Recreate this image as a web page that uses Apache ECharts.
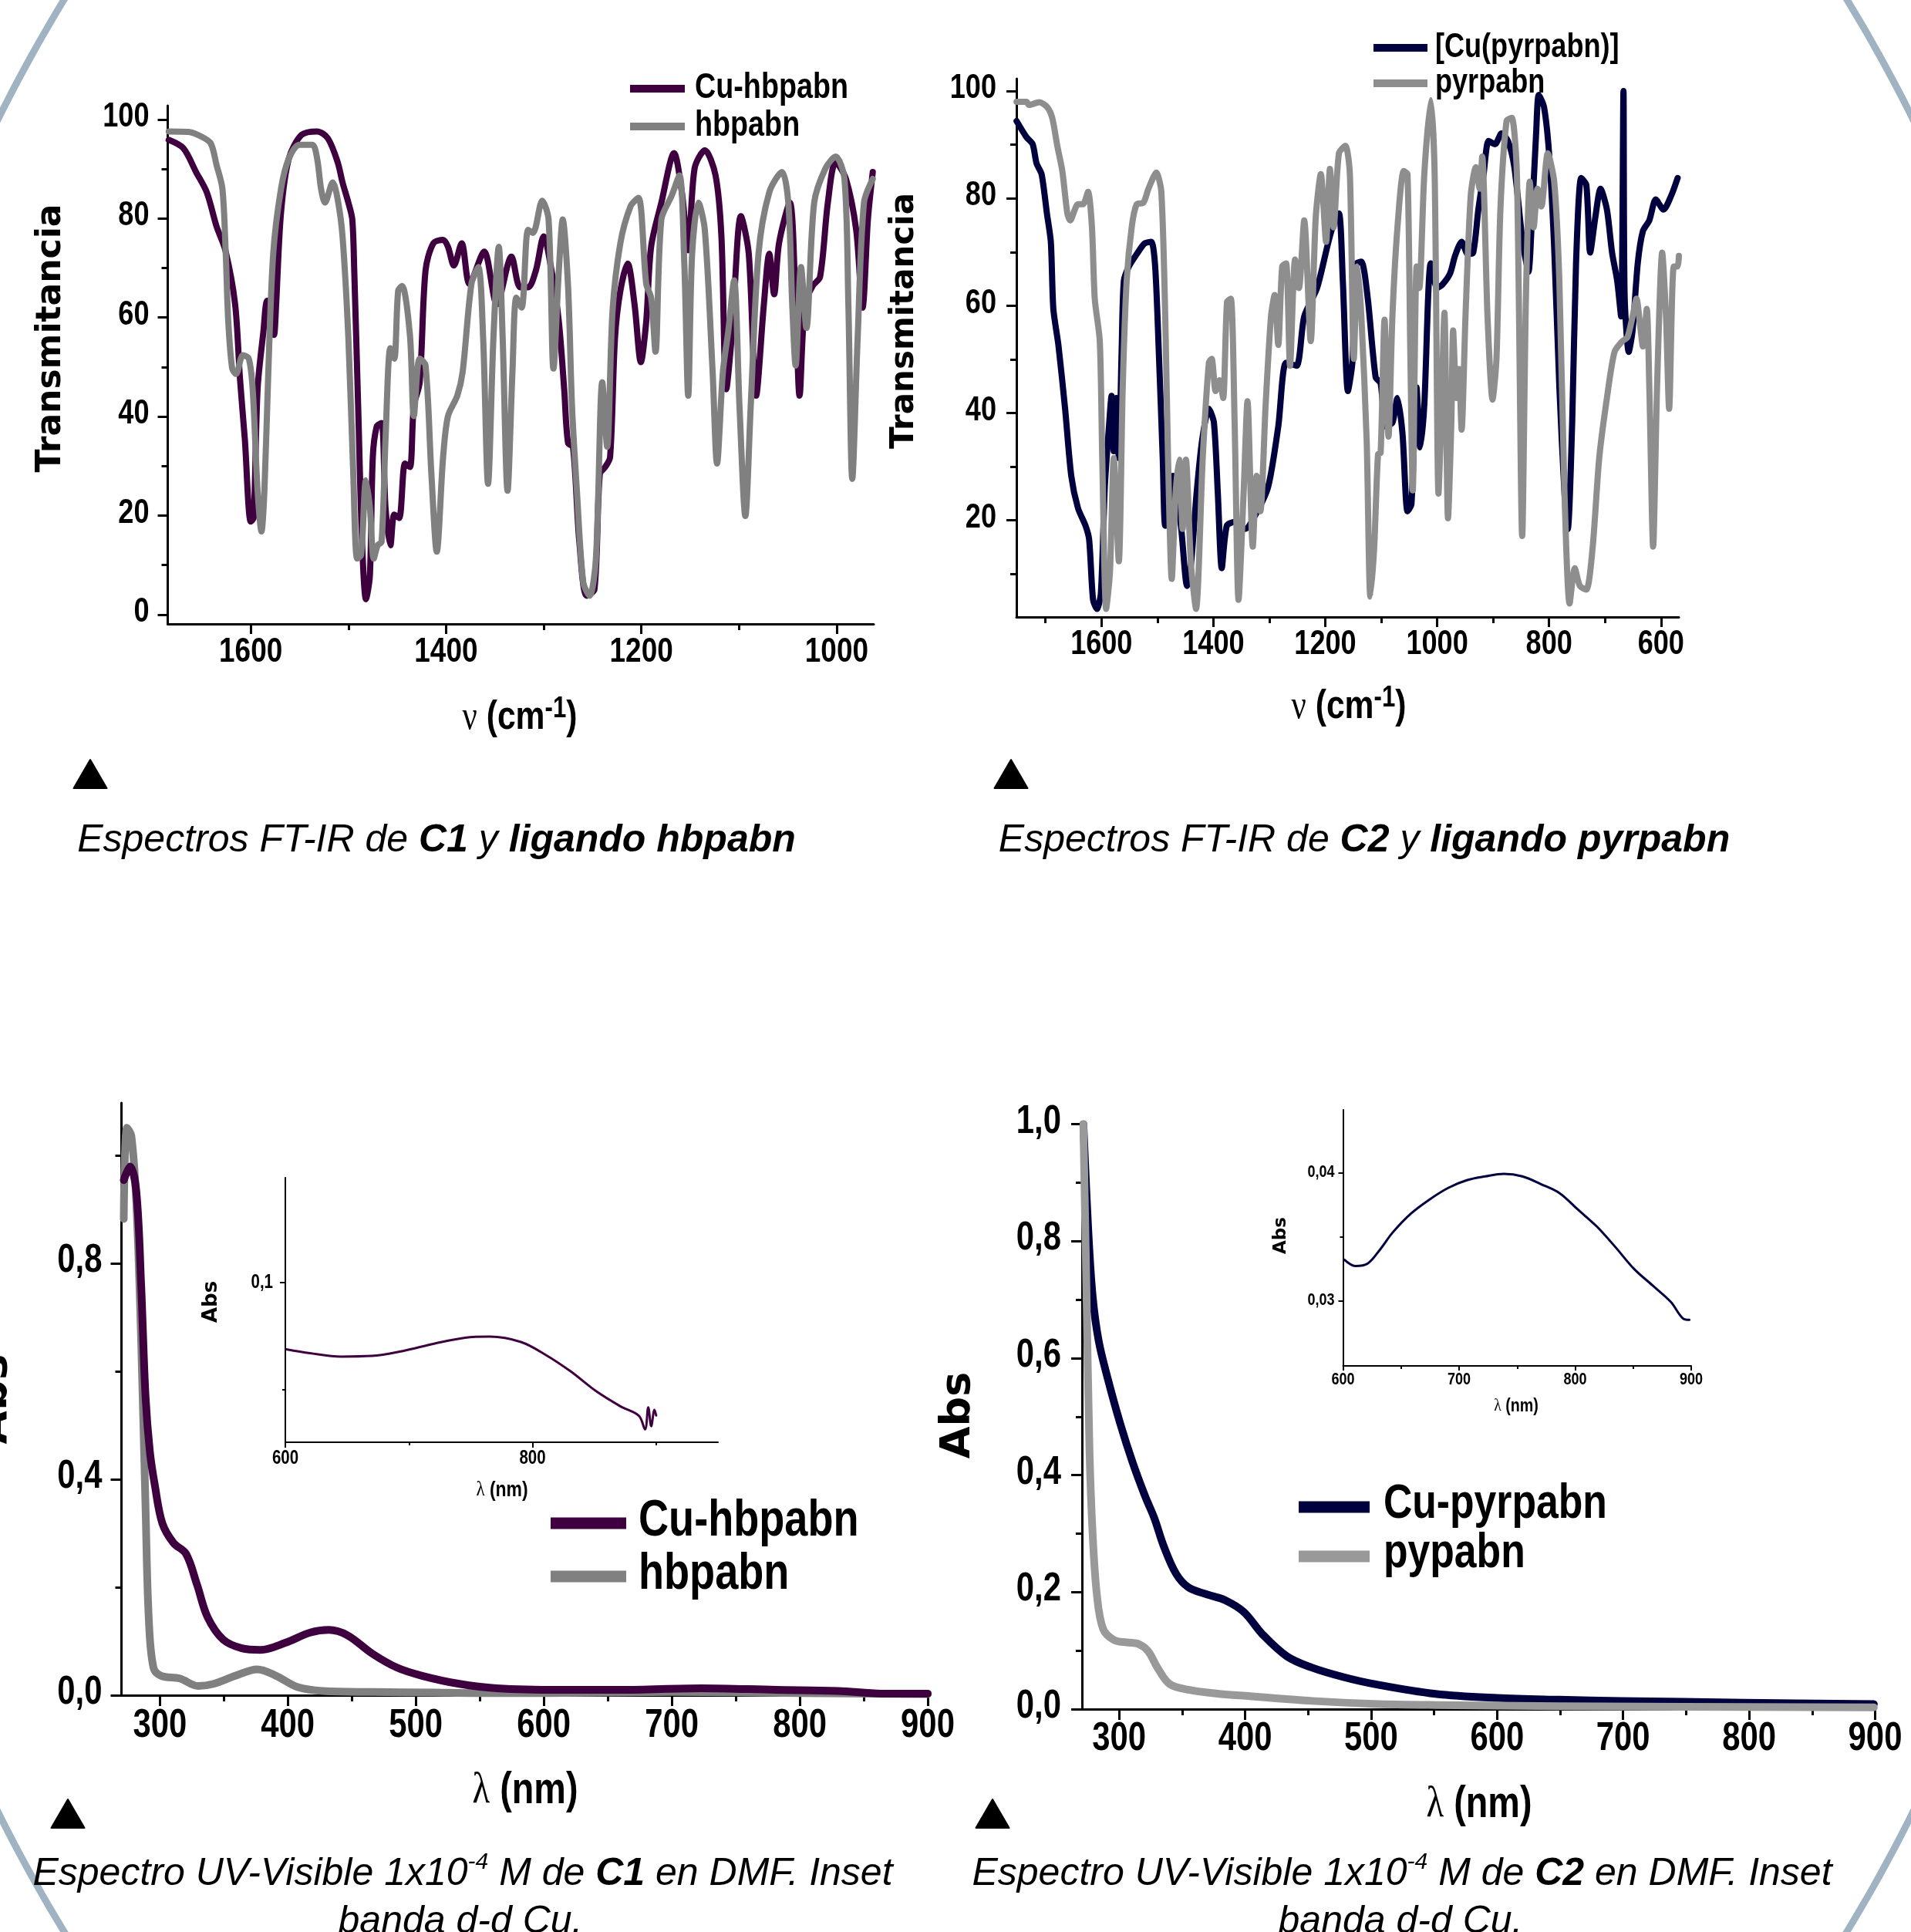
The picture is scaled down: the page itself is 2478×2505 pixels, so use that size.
<!DOCTYPE html>
<html>
<head>
<meta charset="utf-8">
<script src="https://cdn.jsdelivr.net/npm/echarts@6/dist/echarts.min.js"></script>
<style>
html,body{margin:0;padding:0;background:#fff;}
#c{width:2478px;height:2505px;}
</style>
</head>
<body>
<div id="c"></div>
<script>
// ---------------- DATA ----------------
// FT-IR C1 (wavenumber cm-1, %T)
const cuHbpabnIR = [[1684,95.9],[1669,94.2],[1656,89.4],[1645,85.3],[1635,78.4],[1626,73.6],[1616,62.7],[1611,47.6],[1606,35.3],[1600,18.8],[1597,19.5],[1593,45.5],[1587,57.2],[1583,63.4],[1579,63.0],[1576,56.5],[1574,62.7],[1569,81.2],[1561,92.1],[1548,96.9],[1532,97.6],[1521,96.2],[1511,91.4],[1506,87.3],[1500,83.2],[1496,79.8],[1494,69.5],[1490,42.1],[1486,14.7],[1482,3.1],[1478,7.9],[1475,31.8],[1471,38.0],[1466,38.7],[1462,21.6],[1457,14.0],[1453,20.2],[1448,19.5],[1442,30.5],[1437,29.8],[1433,42.1],[1427,46.9],[1421,69.5],[1413,75.0],[1403,75.7],[1398,74.3],[1392,70.5],[1384,75.0],[1376,66.8],[1361,73.3],[1348,62.7],[1333,72.3],[1324,66.1],[1316,66.1],[1308,69.5],[1300,76.4],[1292,69.5],[1284.5,59.2],[1279,45.5],[1275,34.6],[1270,33.9],[1263.5,14.7],[1256,3.8],[1248,5.1],[1242.5,28.4],[1237,29.8],[1232,31.8],[1227,55.8],[1221.5,65.4],[1214,70.9],[1207,62.7],[1200.5,51.0],[1195,59.2],[1190,74.3],[1179.5,83.2],[1166.5,93.2],[1158.5,85.3],[1152,73.6],[1145.5,90.1],[1135,93.8],[1124,88.7],[1118,76.4],[1113,45.5],[1107,57.2],[1098,80.5],[1090,72.9],[1082.5,44.2],[1074.5,62.7],[1069,72.9],[1064,64.7],[1059,75.0],[1048,83.2],[1042,62.7],[1038,44.2],[1032.5,62.7],[1024.5,66.4],[1017,68.2],[1009,83.2],[1001,91.4],[990.5,88.0],[980,77.7],[973.5,62.0],[968,79.8],[963,89.4]];
const hbpabnIR = [[1684,97.6],[1664,97.5],[1651,96.6],[1641,95.2],[1635,90.8],[1629,86.0],[1625.6,72.9],[1623,59.2],[1619,49.7],[1615,48.6],[1608,52.4],[1602,51.7],[1598,45.5],[1593,25.0],[1589,16.8],[1586,25.0],[1582,49.0],[1577,72.9],[1569,86.0],[1561,92.1],[1550,94.9],[1537,94.9],[1532,92.1],[1528,86.0],[1524,83.2],[1516,87.3],[1511,83.9],[1506,76.4],[1500,55.8],[1495,28.4],[1491,11.3],[1487,12.0],[1482,27.1],[1478,21.6],[1474,11.3],[1470,14.0],[1466,14.7],[1462,35.3],[1457,53.8],[1453,51.7],[1449,65.4],[1445,66.4],[1437,56.5],[1433,40.1],[1427,51.7],[1421,50.3],[1415,28.4],[1409.5,12.7],[1403,31.8],[1398,40.1],[1388.5,44.2],[1383,49.0],[1374,66.8],[1367,70.2],[1362,55.8],[1357,26.4],[1351.5,55.8],[1346,74.3],[1342,55.8],[1337,25.0],[1332,49.0],[1328,64.0],[1322.6,62.0],[1316,77.7],[1311,77.1],[1301.5,83.6],[1295,79.8],[1290,49.7],[1284.5,69.5],[1280.5,79.8],[1275,66.1],[1271,42.1],[1266,25.0],[1259.5,6.5],[1253,3.8],[1246.5,11.3],[1240,46.9],[1235,33.9],[1229.5,61.3],[1221.5,75.0],[1211,82.5],[1203,84.2],[1195,66.8],[1190,64.0],[1185.5,53.1],[1179.5,79.8],[1169,84.6],[1161,88.7],[1156,70.9],[1152,44.2],[1148,72.9],[1141.5,83.2],[1135,77.7],[1127,49.0],[1122.5,30.5],[1116.5,49.0],[1111,57.2],[1105,67.5],[1099.5,42.1],[1093.5,19.9],[1088,42.1],[1080,72.9],[1069,85.3],[1056,89.4],[1049.5,83.2],[1045.5,62.7],[1042,50.3],[1036.5,70.2],[1031,57.9],[1023,83.2],[1011.5,90.1],[1001,92.5],[992,88.0],[988,62.7],[984,27.4],[978.5,55.8],[972,83.2],[963,88.0]];

// FT-IR C2
const cuPyrpabnIR = [[1751.7,94.4],[1734,91.4],[1723,90.1],[1716,86.5],[1707,84.5],[1697.5,77.2],[1690.5,71.9],[1686,59.4],[1677,52.7],[1665,40.8],[1654,28.3],[1642,22.3],[1628.5,19.0],[1622,16.4],[1615,5.2],[1608,3.5],[1601,6.5],[1594,26.3],[1587,36.9],[1582,43.2],[1578,32.9],[1573.3,42.8],[1569,31.6],[1564,51.4],[1560,64.6],[1551,67.3],[1537,69.6],[1523,71.6],[1511,71.9],[1504,67.3],[1497.5,51.4],[1490.5,31.6],[1486,19.0],[1478,22.0],[1472,28.3],[1458,19.0],[1447,7.8],[1440,11.8],[1430,25.0],[1420,35.0],[1408,40.8],[1399,38.2],[1392,25.0],[1385,11.1],[1376,19.0],[1362,19.7],[1343.4,18.4],[1325,21.0],[1302,26.3],[1284,37.5],[1270,49.4],[1251.4,48.8],[1237.6,58.0],[1214.7,63.3],[1196,71.2],[1187,74.6],[1175.6,77.2],[1168.6,64.6],[1159.5,44.1],[1151.6,49.4],[1144.7,67.8],[1135.5,68.2],[1124,61.3],[1110,46.7],[1101,45.5],[1092,37.5],[1080,38.2],[1071,42.8],[1062,36.2],[1053,21.7],[1046,23.0],[1037,44.8],[1030,33.6],[1023,41.5],[1011.4,67.9],[1000,63.3],[991,63.9],[977,66.0],[968,69.3],[956.3,71.9],[945,69.6],[935.6,69.9],[926.4,77.9],[917,84.5],[908,90.7],[896.5,90.1],[885,92.1],[873.5,90.7],[862,85.8],[848,72.6],[837,66.3],[830,77.9],[823,92.4],[818.4,99.3],[809,97.0],[800,88.4],[791,71.2],[781.6,44.8],[772.4,25.0],[766.5,18.4],[758.7,38.2],[751.8,67.9],[742.6,83.8],[733.4,82.5],[726.5,69.9],[717.3,76.5],[708,81.8],[696.6,77.9],[687.4,69.9],[678.2,64.6],[671.3,58.0],[667,100],[665,62.0],[657.6,51.4],[650.7,55.4],[641.5,67.9],[632.3,73.9],[620.8,75.9],[609.3,79.8],[595.5,77.9],[581.7,80.5],[570.2,83.8]];
const pyrpabnIR = [[1751.7,98.0],[1734,98.0],[1729.6,97.4],[1711,97.9],[1697,97.0],[1688,95.0],[1679,89.8],[1670,85.1],[1661,77.2],[1656,75.9],[1642,78.9],[1633,78.9],[1624,81.2],[1617,74.6],[1612,61.3],[1603,53.4],[1598.6,31.6],[1591.6,3.5],[1584.8,10.4],[1578,31.6],[1569,12.4],[1562,44.8],[1555,64.6],[1546,74.6],[1537,78.9],[1525,79.2],[1516,81.8],[1502,84.8],[1493,81.2],[1486,58.0],[1481,31.6],[1474.4,9.1],[1467.5,25.0],[1461,31.3],[1455,18.4],[1449,31.3],[1440,11.8],[1431,3.5],[1419,31.6],[1408,49.4],[1403,50.1],[1396,44.1],[1389,46.1],[1382.5,42.8],[1375.6,60.7],[1368.7,61.3],[1362,38.2],[1355,5.2],[1346,25.0],[1339,42.2],[1329.6,15.1],[1322.7,28.3],[1316,21.7],[1306.6,41.5],[1297,58.0],[1290.5,62.0],[1284,52.7],[1277,67.3],[1270,67.9],[1263,48.8],[1254,68.6],[1247,63.3],[1237.6,75.9],[1226,53.4],[1217,76.5],[1208,84.5],[1198.5,71.9],[1191.7,85.5],[1185,74.6],[1175.6,88.4],[1164,89.8],[1156,84.5],[1149,50.1],[1142.4,67.3],[1135.5,58.0],[1126,34.9],[1119.4,5.8],[1112.5,15.1],[1105.7,32.3],[1101,32.6],[1094,57.4],[1087,35.6],[1080,58.0],[1071,74.6],[1059.7,85.1],[1053,84.5],[1048,51.4],[1043.6,25.6],[1036.7,67.3],[1032,63.3],[1023,84.5],[1011.4,98.3],[1004.5,84.5],[997.6,25.0],[993,38.2],[987,58.7],[980.6,20.4],[974.7,38.2],[971.5,55.4],[965.5,42.8],[961,48.2],[956.3,36.9],[949.4,58.0],[940,80.5],[931,85.8],[924,81.8],[919.5,87.8],[910,58.0],[901,42.5],[894,50.1],[887,77.9],[876,94.4],[866.7,95.0],[857.5,84.5],[848,17.1],[841.4,61.3],[834.5,83.1],[827.6,74.6],[820.7,81.8],[813.8,78.5],[802.3,88.4],[790.8,83.1],[781.6,64.6],[772.4,25.0],[763.3,4.5],[754,11.1],[745,7.8],[733.4,7.1],[722,15.1],[710.4,31.6],[696.6,42.8],[683,51.4],[669,53.4],[660,54.1],[650.7,58.0],[643.8,61.3],[636.9,56.0],[632.3,52.4],[625.4,59.4],[620.8,44.8],[614,15.1],[607,44.8],[597.8,69.9],[591,58.0],[585.4,40.8],[577.1,67.3],[570.2,67.3],[568,69.3]];

// UV-Vis C1 (nm, Abs)
const cuHbpabnUV = [[271.8,0.954],[276.7,0.979],[281.6,0.933],[285.4,0.759],[288.8,0.554],[292.2,0.451],[296,0.390],[302,0.318],[310.7,0.282],[320.4,0.262],[329,0.205],[337.4,0.144],[349.5,0.103],[364,0.087],[378.6,0.084],[398,0.097],[417.5,0.116],[432,0.121],[446.6,0.111],[466,0.077],[485.4,0.051],[504.9,0.036],[534,0.021],[563,0.013],[611.7,0.010],[660,0.010],[723,0.013],[781.6,0.010],[830,0.008],[864,0.003],[900,0.003]];
const hbpabnUV = [[271.8,0.882],[274.3,1.051],[277.7,1.036],[281.6,0.913],[285.4,0.656],[288.8,0.349],[291.3,0.144],[295,0.051],[301,0.036],[315.5,0.031],[330,0.017],[342,0.021],[359,0.036],[376,0.048],[390.8,0.036],[407.8,0.015],[427.2,0.008],[466,0.006],[514.6,0.005],[543.7,0.004],[600,0.004],[700,0.006],[800,0.004],[900,0.002]];
const insetCuHbpabn = [[600.8,0.0689],[619.9,0.0671],[645,0.0655],[670,0.0658],[695,0.0681],[720.3,0.0715],[745.4,0.0743],[765.5,0.0748],[790.6,0.0723],[810.6,0.0663],[830.8,0.0586],[851,0.0495],[871,0.0423],[886,0.0379],[891,0.0315],[893.6,0.0418],[896,0.033],[898.6,0.0406],[900,0.038]];

// UV-Vis C2
const cuPyrpabnUV = [[271.6,1.0],[275.5,0.818],[279,0.705],[283.8,0.629],[291.2,0.563],[301,0.487],[310.8,0.421],[320.6,0.364],[328,0.326],[335.3,0.279],[345,0.232],[355,0.208],[369.6,0.196],[384.3,0.186],[399,0.166],[413.7,0.128],[433.3,0.090],[452.9,0.071],[477.5,0.055],[502,0.043],[551,0.026],[600,0.019],[649,0.016],[698,0.014],[796,0.011],[899,0.0085]];
const pypabnUV = [[271.6,1.0],[274,0.724],[276.5,0.440],[279,0.298],[282.4,0.194],[287.3,0.137],[296,0.118],[306,0.114],[315.7,0.111],[323,0.099],[330.4,0.071],[340,0.043],[355,0.033],[379.4,0.026],[404,0.022],[453,0.014],[502,0.009],[551,0.007],[649,0.005],[899,0.003]];
const insetCuPyrpabn = [[601,0.0332],[610.7,0.0327],[621.3,0.0329],[632,0.0340],[642.6,0.0353],[658.6,0.0368],[674.6,0.0379],[690.6,0.0388],[706.6,0.0394],[722.6,0.0397],[738.6,0.0399],[754.5,0.0397],[770.5,0.0391],[786.5,0.0384],[802.5,0.0371],[818.5,0.0358],[834.5,0.0342],[850.5,0.0325],[866.5,0.0312],[882.4,0.0299],[893,0.0286],[898.4,0.0285]];

// Tick values / labels
const ir1XLabels = [1600,1400,1200,1000], ir1XMinor = [1500,1300,1100];
const ir1YLabels = [0,20,40,60,80,100], ir1YMinor = [10,30,50,70,90];
const ir2XLabels = [1600,1400,1200,1000,800,600], ir2XMinor = [1700,1500,1300,1100,900,700];
const ir2YLabels = [20,40,60,80,100], ir2YMinor = [10,30,50,70,90];
const uvXLabels = [300,400,500,600,700,800,900], uvXMinor = [350,450,550,650,750,850];
const uv1YLabels = [0,0.4,0.8], uv1YMinor = [0.2,0.6,1.0];
const uv2YLabels = [0,0.2,0.4,0.6,0.8,1.0], uv2YMinor = [0.1,0.3,0.5,0.7,0.9];
const in1XLabels = [600,800], in1XMinor = [700,900];
const in1YLabels = [0.1], in1YMinor = [0.05];
const in2XLabels = [600,700,800,900], in2XMinor = [650,750,850];
const in2YLabels = [0.03,0.04], in2YMinor = [0.035];

// Legend entries
const ir1Legend = ['Cu-hbpabn','hbpabn'];
const ir2Legend = ['[Cu(pyrpabn)]','pyrpabn'];
const uv1Legend = ['Cu-hbpabn','hbpabn'];
const uv2Legend = ['Cu-pyrpabn','pypabn'];

// ---------------- CHART ----------------
const SANS = "'Liberation Sans',Arial,sans-serif";
const DEJAVU = "'DejaVu Sans',sans-serif";
const SERIF = "'Liberation Serif','DejaVu Serif',serif";
const NARROW_SCALE = 0.82;   // Arial Narrow look: Liberation Sans squeezed horizontally
const intFmt = v => String(Math.round(v));
const dec = n => v => v.toFixed(n).replace('.', ',');

const grids = [
  {left:217.5, top:137, width:915.5, height:672},
  {left:1318, top:102, width:859, height:698},
  {left:157.5, top:1430, width:1045.5, height:768},
  {left:1403, top:1457.5, width:1028.5, height:758.5},
  {left:370, top:1527, width:561, height:343},
  {left:1741.5, top:1439, width:451.5, height:332}
].map(g => Object.assign(g, {containLabel:false, outerBoundsMode:'none', show:false}));

const xAxes = [], yAxes = [];
function addAxes(list, dim, grid, c) {
  const common = {type:'value', gridIndex:grid, min:c.min, max:c.max, inverse:!!c.inverse,
    position: dim === 'x' ? 'bottom' : 'left', offset:0, splitLine:{show:false}, axisLabel:{show:false}};
  list.push(Object.assign({}, common, {
    axisLine:{show:true, onZero:false, lineStyle:{color:'#000', width:c.lw}},
    axisTick:{show:true, inside:false, length:c.tl, customValues:c.labels, lineStyle:{color:'#000', width:c.lw}}
  }));
  list.push(Object.assign({}, common, {
    axisLine:{show:false, onZero:false},
    axisTick:{show:true, inside:false, length:c.ml, customValues:c.minor, lineStyle:{color:'#000', width:c.lw}}
  }));
}
addAxes(xAxes,'x',0,{min:962,max:1685,inverse:true,lw:3,tl:13,ml:8,labels:ir1XLabels,minor:ir1XMinor});
addAxes(yAxes,'y',0,{min:-1.9,max:102.8,lw:3,tl:13,ml:8,labels:ir1YLabels,minor:ir1YMinor});
addAxes(xAxes,'x',1,{min:568,max:1752,inverse:true,lw:3,tl:13,ml:8,labels:ir2XLabels,minor:ir2XMinor});
addAxes(yAxes,'y',1,{min:2.0,max:102.3,lw:3,tl:13,ml:8,labels:ir2YLabels,minor:ir2YMinor});
addAxes(xAxes,'x',2,{min:270,max:900,lw:3,tl:14,ml:8,labels:uvXLabels,minor:uvXMinor});
addAxes(yAxes,'y',2,{min:0,max:1.097,lw:3,tl:14,ml:8,labels:uv1YLabels,minor:uv1YMinor});
addAxes(xAxes,'x',3,{min:270.5,max:900,lw:3,tl:14,ml:8,labels:uvXLabels,minor:uvXMinor});
addAxes(yAxes,'y',3,{min:0,max:1.0,lw:3,tl:14,ml:8,labels:uv2YLabels,minor:uv2YMinor});
addAxes(xAxes,'x',4,{min:600,max:950,lw:2,tl:7,ml:4,labels:in1XLabels,minor:in1XMinor});
addAxes(yAxes,'y',4,{min:0.0255,max:0.149,lw:2,tl:7,ml:4,labels:in1YLabels,minor:in1YMinor});
addAxes(xAxes,'x',5,{min:600,max:900,lw:2,tl:6,ml:4,labels:in2XLabels,minor:in2XMinor});
addAxes(yAxes,'y',5,{min:0.0249,max:0.0449,lw:2,tl:6,ml:4,labels:in2YLabels,minor:in2YMinor});

function line(name, data, g, color, width, smooth) {
  return {type:'line', name, data, xAxisIndex:2*g, yAxisIndex:2*g, showSymbol:false, symbol:'none',
    smooth, color, itemStyle:{color}, lineStyle:{color, width, join:'round', cap:'round'},
    clip:true, silent:true, z:3};
}
const PURPLE = '#3e003f', NAVY = '#00003f', GRAY1 = '#808080', GRAY2 = '#8e8e8e', GRAY3 = '#999999';
const series = [
  line('Cu-hbpabn', cuHbpabnIR, 0, PURPLE, 8, 0.3),
  line('hbpabn', hbpabnIR, 0, GRAY1, 8, 0.3),
  line('[Cu(pyrpabn)]', cuPyrpabnIR, 1, NAVY, 8, 0.25),
  line('pyrpabn', pyrpabnIR, 1, GRAY2, 8, 0.25),
  line('hbpabn (UV)', hbpabnUV, 2, GRAY1, 10, 0.35),
  line('Cu-hbpabn (UV)', cuHbpabnUV, 2, PURPLE, 10, 0.35),
  line('Cu-pyrpabn', cuPyrpabnUV, 3, NAVY, 10, 0.35),
  line('pypabn', pypabnUV, 3, GRAY3, 10, 0.35),
  line('inset C1', insetCuHbpabn, 4, PURPLE, 3, 0.35),
  line('inset C2', insetCuPyrpabn, 5, NAVY, 3, 0.35)
];

// ---- text helpers ----
function narrow(x, y, text, fs, align, valign) {
  return {type:'text', x, y, scaleX:NARROW_SCALE, silent:true, z:10,
    style:{text, x:0, y:0, fill:'#000', font:'bold ' + fs + 'px ' + SANS, textAlign:align, textVerticalAlign:valign}};
}
function richText(x, y, text, rich, scaleX) {
  return {type:'text', x, y, scaleX:scaleX || 1, silent:true, z:10,
    style:{text, x:0, y:0, fill:'#000', textAlign:'center', textVerticalAlign:'middle', rich}};
}
function nuTitle(x, y, fs) {
  return richText(x, y, '{g|ν}{t| (cm}{s|-1}{t|)}', {
    g:{fontFamily:SERIF, fontSize:fs, lineHeight:fs+8, fill:'#000'},
    t:{fontFamily:SANS, fontWeight:'bold', fontSize:fs, lineHeight:fs+8, fill:'#000'},
    s:{fontFamily:SANS, fontWeight:'bold', fontSize:Math.round(fs*0.74), lineHeight:Math.round(fs*0.62), verticalAlign:'top', fill:'#000'}
  }, NARROW_SCALE);
}
function lamTitle(x, y, fs) {
  return richText(x, y, '{g|λ}{t| (nm)}', {
    g:{fontFamily:SERIF, fontSize:fs, lineHeight:fs+6, fill:'#000'},
    t:{fontFamily:SANS, fontWeight:'bold', fontSize:fs, lineHeight:fs+6, fill:'#000'}
  }, NARROW_SCALE);
}
function yTitle(x, y, text, fs) {
  return {type:'text', x, y, rotation:Math.PI/2, silent:true, z:10,
    style:{text, x:0, y:0, fill:'#000', font:'bold ' + fs + 'px ' + DEJAVU, textAlign:'center', textVerticalAlign:'middle'}};
}
const capRich = {
  i:{fontFamily:SANS, fontStyle:'italic', fontSize:50, lineHeight:60, fill:'#000'},
  b:{fontFamily:SANS, fontStyle:'italic', fontWeight:'bold', fontSize:50, lineHeight:60, fill:'#000'},
  s:{fontFamily:SANS, fontStyle:'italic', fontSize:30, lineHeight:30, verticalAlign:'top', fill:'#000'}
};
function tri(cx, topY, w, h) {
  return {type:'polygon', silent:true, z:10, shape:{points:[[cx, topY],[cx - w/2, topY + h],[cx + w/2, topY + h]]},
    style:{fill:'#000', stroke:'#000', lineWidth:2, lineJoin:'round'}};
}
function legendBlock(names, colors, x0, x1, thick, rowsY, textX, textDy, fs) {
  const out = [];
  names.forEach((n, i) => {
    out.push({type:'line', silent:true, z:10, shape:{x1:x0, y1:rowsY[i], x2:x1, y2:rowsY[i]},
      style:{stroke:colors[i], lineWidth:thick, lineCap:'butt'}});
    out.push(narrow(textX, rowsY[i] + textDy, n, fs, 'left', 'middle'));
  });
  return out;
}

// decorative rounded frame (ellipse outline)
const framePts = [];
for (let k = 0; k <= 720; k++) {
  const a = k / 720 * Math.PI * 2;
  framePts.push([1239 + 1490 * Math.cos(a), 1252 + 1985 * Math.sin(a)]);
}
const staticGraphics = [
  {type:'polyline', silent:true, z:0, shape:{points:framePts}, style:{stroke:'#9fb3c2', lineWidth:9, fill:null}},
  nuTitle(674, 931, 52),
  nuTitle(1749, 917, 52),
  lamTitle(681, 2322, 57),
  lamTitle(1918, 2340, 57),
  lamTitle(651, 1932, 28),
  lamTitle(1966, 1823, 24),
  yTitle(67, 438.5, 'Transmitancia', 44),
  yTitle(1173, 416, 'Transmitancia', 42),
  yTitle(-7, 1814, 'Abs', 56),
  yTitle(1243, 1835, 'Abs', 54),
  yTitle(274, 1688, 'Abs', 26),
  yTitle(1661, 1602, 'Abs', 23),
  richText(566, 1090, '{i|Espectros FT-IR de }{b|C1}{i| y }{b|ligando hbpabn}', capRich),
  richText(1769, 1090, '{i|Espectros FT-IR de }{b|C2}{i| y }{b|ligando pyrpabn}', capRich),
  richText(600, 2430, '{i|Espectro UV-Visible 1x10}{s|-4}{i| M de }{b|C1}{i| en DMF. Inset}', capRich),
  richText(597, 2492, '{i|banda d-d Cu.}', capRich),
  richText(1818, 2430, '{i|Espectro UV-Visible 1x10}{s|-4}{i| M de }{b|C2}{i| en DMF. Inset}', capRich),
  richText(1816, 2492, '{i|banda d-d Cu.}', capRich),
  tri(117, 985, 43, 37),
  tri(1311, 985, 43, 37),
  tri(88, 2333, 43, 37),
  tri(1287, 2333, 43, 37)
].concat(
  legendBlock(ir1Legend, [PURPLE, GRAY1], 817, 888, 10, [115, 164], 901, -1, 46),
  legendBlock(ir2Legend, [NAVY, GRAY2], 1781, 1851, 10, [62, 108], 1861, 0, 44),
  legendBlock(uv1Legend, [PURPLE, GRAY1], 714, 812, 15, [1975, 2044], 828, -2, 66),
  legendBlock(uv2Legend, [NAVY, GRAY3], 1684, 1776, 15, [1954, 2018], 1794, -3, 63)
);

const chart = echarts.init(document.getElementById('c'), null, {renderer:'canvas', width:2478, height:2505});
chart.setOption({
  backgroundColor:'#ffffff',
  animation:false,
  grid:grids,
  xAxis:xAxes,
  yAxis:yAxes,
  series
});

// Tick labels placed through the axes' own scales (convertToPixel), drawn narrow like the original
const labelSpecs = [
  {g:0, dim:'x', vals:ir1XLabels, fmt:intFmt, off:36.7, fs:45},
  {g:0, dim:'y', vals:ir1YLabels, fmt:intFmt, off:24, fs:44},
  {g:1, dim:'x', vals:ir2XLabels, fmt:intFmt, off:35.5, fs:44},
  {g:1, dim:'y', vals:ir2YLabels, fmt:intFmt, off:26, fs:44},
  {g:2, dim:'x', vals:uvXLabels, fmt:intFmt, off:40, fs:51},
  {g:2, dim:'y', vals:uv1YLabels, fmt:dec(1), off:25, fs:51},
  {g:3, dim:'x', vals:uvXLabels, fmt:intFmt, off:39, fs:51},
  {g:3, dim:'y', vals:uv2YLabels, fmt:dec(1), off:27, fs:51},
  {g:4, dim:'x', vals:in1XLabels, fmt:intFmt, off:21, fs:25},
  {g:4, dim:'y', vals:in1YLabels, fmt:dec(1), off:16, fs:25},
  {g:5, dim:'x', vals:in2XLabels, fmt:intFmt, off:18, fs:22},
  {g:5, dim:'y', vals:in2YLabels, fmt:dec(2), off:11, fs:22}
];
const labelGraphics = [];
labelSpecs.forEach(s => {
  const gr = grids[s.g];
  s.vals.forEach(v => {
    if (s.dim === 'x') {
      const px = chart.convertToPixel({xAxisIndex: 2*s.g}, v);
      labelGraphics.push(narrow(px, gr.top + gr.height + s.off, s.fmt(v), s.fs, 'center', 'middle'));
    } else {
      const py = chart.convertToPixel({yAxisIndex: 2*s.g}, v);
      labelGraphics.push(narrow(gr.left - s.off, py - (s.g < 4 ? 3 : 0), s.fmt(v), s.fs, 'right', 'middle'));
    }
  });
});
chart.setOption({graphic: staticGraphics.concat(labelGraphics)});
</script>
</body>
</html>
